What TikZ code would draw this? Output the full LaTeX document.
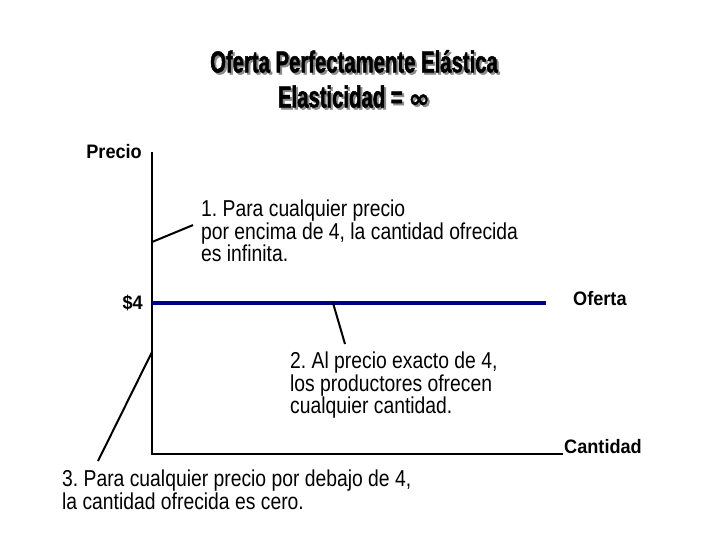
\documentclass[tikz,border=0pt]{standalone}
\usepackage{fontspec}
\setmainfont{Liberation Sans}
\newfontfamily\notafont[FakeStretch=0.84]{Liberation Sans}
\newfontfamily\etiqfont[FakeStretch=0.93]{Liberation Sans}
\newfontfamily\titulofont[FakeStretch=0.67, FakeBold=1.5]{Liberation Sans}
\newfontfamily\simbolofont[FakeBold=1]{DejaVu Sans}
\usetikzlibrary{positioning}
\definecolor{azuloferta}{RGB}{0,0,128}
\definecolor{sombra}{RGB}{140,140,140}
\frenchspacing
\tikzset{
  eje/.style={line width=2.5pt},
  guia/.style={line width=2pt},
  oferta/.style={line width=4pt, draw=azuloferta},
  etiq/.style={font=\etiqfont\bfseries\fontsize{19.5}{22}\selectfont, inner sep=0pt},
  nota/.style={font=\notafont\fontsize{23}{20}\selectfont, align=left, inner sep=0pt, anchor=north west},
  titulo/.style={font=\titulofont\bfseries\fontsize{30.3}{35}\selectfont, align=center, inner sep=0pt, anchor=north}
}
\newcommand{\infinito}{{\simbolofont\fontsize{26}{26}\selectfont ∞}}
\begin{document}
\begin{tikzpicture}[x=1pt, y=-1pt]
    \useasboundingbox (0,0) rectangle (728,546);
    % titulo con sombra
    \node[titulo, text=sombra] (titulosombra) at (356,52) {Oferta Perfectamente Elástica\\Elasticidad = \infinito};
    \node[titulo] (titulo) at ([xshift=-2pt, yshift=2pt]titulosombra.north) {Oferta Perfectamente Elástica\\Elasticidad = \infinito};
    % ejes
    \coordinate (origen) at (152,454);
    \coordinate (ytop) at (152,152);
    \coordinate (xend) at (563,454);
    \draw[eje] (ytop) -- (origen) -- (xend);
    % curva de oferta a $4
    \coordinate (s4) at (152,303);
    \coordinate (send) at (546,303);
    \draw[oferta] (s4) -- (send);
    \node[etiq, left=10pt of ytop] (precio) {Precio};
    \node[etiq, left=9pt of s4] (cuatro) {\$4};
    \node[etiq, anchor=base west] (ofertalab) at (573,305) {Oferta};
    \node[etiq, anchor=base west] (cantidad) at (564,453) {Cantidad};
    % notas
    \node[nota] (nota1) at (201,200) {1. Para cualquier precio\\por encima de 4, la cantidad ofrecida\\es infinita.};
    \node[nota] (nota2) at (290,352) {2. Al precio exacto de 4,\\los productores ofrecen\\cualquier cantidad.};
    \node[nota] (nota3) at (62,470) {3. Para cualquier precio por debajo de 4,\\la cantidad ofrecida es cero.};
    \coordinate (p1) at (152,242);
    \coordinate (p2) at (333,303);
    \coordinate (p3) at (152,352);
    \draw[guia] (p1) -- ([xshift=-8pt, yshift=6pt]nota1.west);
    \draw[guia] (p2) -- ([xshift=55pt, yshift=8pt]nota2.north west);
    \draw[guia] (p3) -- ([xshift=36pt, yshift=9pt]nota3.north west);
\end{tikzpicture}
\end{document}
